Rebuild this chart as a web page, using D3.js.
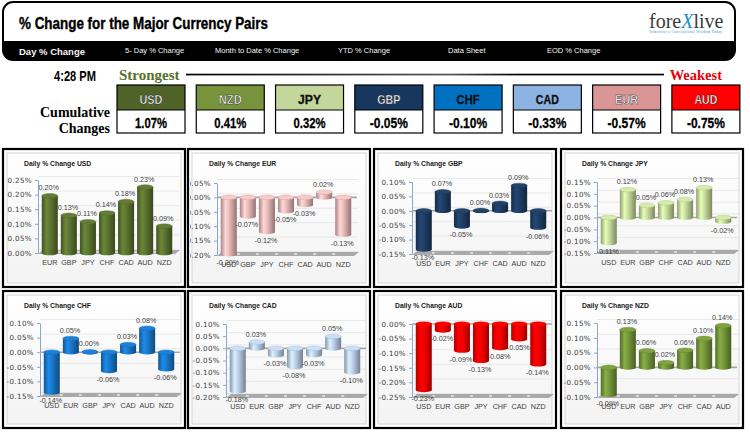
<!DOCTYPE html>
<html><head><meta charset="utf-8">
<script src="https://cdn.jsdelivr.net/npm/d3@7"></script>
<style>body{margin:0;background:#fff}svg{display:block}</style>
</head><body>
<svg id="c" width="750" height="433"></svg>
<script>
// ---------- DATA ----------
const rankCurrencies = ["USD","NZD","JPY","GBP","CHF","CAD","EUR","AUD"];
const rankCumulative = [1.07,0.41,0.32,-0.05,-0.10,-0.33,-0.57,-0.75];
const tabLabels = ["Day % Change","5- Day % Change","Month to Date % Change","YTD % Change","Data Sheet","EOD % Change"];

const catsUSD = ["EUR","GBP","JPY","CHF","CAD","AUD","NZD"];
const valsUSD = [0.196,0.129,0.107,0.137,0.176,0.226,0.092];
const catsEUR = ["USD","GBP","JPY","CHF","CAD","AUD","NZD"];
const valsEUR = [-0.197,-0.066,-0.120,-0.048,-0.026,0.018,-0.129];
const catsGBP = ["USD","EUR","JPY","CHF","CAD","AUD","NZD"];
const valsGBP = [-0.134,0.066,-0.054,0.001,0.026,0.088,-0.058];
const catsJPY = ["USD","EUR","GBP","CHF","CAD","AUD","NZD"];
const valsJPY = [-0.108,0.118,0.051,0.062,0.076,0.126,-0.017];
const catsCHF = ["USD","EUR","GBP","JPY","CAD","AUD","NZD"];
const valsCHF = [-0.138,0.047,0.001,-0.064,0.026,0.082,-0.058];
const catsCAD = ["USD","EUR","GBP","JPY","CHF","AUD","NZD"];
const valsCAD = [-0.176,0.026,-0.028,-0.076,-0.027,0.049,-0.098];
const catsAUD = ["USD","EUR","GBP","JPY","CHF","CAD","NZD"];
const valsAUD = [-0.226,-0.022,-0.091,-0.126,-0.082,-0.052,-0.138];
const catsNZD = ["USD","EUR","GBP","JPY","CHF","CAD","AUD"];
const valsNZD = [-0.092,0.128,0.056,0.016,0.058,0.098,0.141];

const domUSD = [0,0.25], domEUR = [-0.20,0.05], domGBP = [-0.15,0.10], domJPY = [-0.15,0.15];
const domCHF = [-0.15,0.10], domCAD = [-0.20,0.10], domAUD = [-0.25,0], domNZD = [-0.10,0.15];

// ---------- STYLE ----------
const boxColors = {USD:"#4f6228",NZD:"#77933c",JPY:"#c3d69b",GBP:"#17375e",CHF:"#0070c0",CAD:"#8db3e2",EUR:"#d99694",AUD:"#ff0000"};
const boxText = {USD:"#fff",NZD:"#fff",JPY:"#111",GBP:"#fff",CHF:"#111",CAD:"#111",EUR:"#fff",AUD:"#fff"};

const charts = [
  {name:"USD", cats:catsUSD, vals:valsUSD, dom:domUSD, color:"#5b7330"},
  {name:"EUR", cats:catsEUR, vals:valsEUR, dom:domEUR, color:"#e6b8b7"},
  {name:"GBP", cats:catsGBP, vals:valsGBP, dom:domGBP, color:"#1f3d63"},
  {name:"JPY", cats:catsJPY, vals:valsJPY, dom:domJPY, color:"#c4d99b"},
  {name:"CHF", cats:catsCHF, vals:valsCHF, dom:domCHF, color:"#1976c8"},
  {name:"CAD", cats:catsCAD, vals:valsCAD, dom:domCAD, color:"#b9cde5"},
  {name:"AUD", cats:catsAUD, vals:valsAUD, dom:domAUD, color:"#f40000"},
  {name:"NZD", cats:catsNZD, vals:valsNZD, dom:domNZD, color:"#74953a"}
];
const panelX = [3,188,374,561], panelY = [149,291], panelH = [138,137], panelW = 182;
const axisX = [38,217,412,597,40,226,412,597];
const plotTop = [180,183,182,182,323,324,324,323];
const plotBot = [253,255,254,253,396,397,397,397];

const svg = d3.select("#c");
const defs = svg.append("defs");
const SANS = "'Liberation Sans', Arial, sans-serif";
const SERIF = "'Liberation Serif', 'Times New Roman', serif";

// ---------- HEADER ----------
defs.append("clipPath").attr("id","hdrClip").append("rect")
  .attr("x",3).attr("y",2).attr("width",732).attr("height",58).attr("rx",10);
svg.append("rect").attr("x",3).attr("y",2).attr("width",732).attr("height",58).attr("rx",10).attr("fill","#fff");
svg.append("g").attr("clip-path","url(#hdrClip)").append("rect")
  .attr("x",0).attr("y",41).attr("width",750).attr("height",20).attr("fill","#000");
svg.append("rect").attr("x",3).attr("y",2).attr("width",732).attr("height",58).attr("rx",10)
  .attr("fill","none").attr("stroke","#000").attr("stroke-width",2);

svg.append("text").attr("x",19).attr("y",29).text("% Change for the Major Currency Pairs")
  .attr("font-family",SANS).attr("font-weight","bold").attr("font-size",17)
  .attr("textLength",249).attr("lengthAdjust","spacingAndGlyphs").attr("fill","#000")
  .attr("stroke","#000").attr("stroke-width",0.4);

const tabX = [19,125,215,338,448,547];
svg.selectAll("text.tab").data(tabLabels).join("text").attr("class","tab")
  .attr("x",(d,i)=>tabX[i]).attr("y",(d,i)=>i===0?55:53)
  .attr("font-family",SANS).attr("font-size",(d,i)=>i===0?9.5:7.5)
  .attr("font-weight",(d,i)=>i===0?"bold":"normal").attr("fill","#f4f4f4").text(d=>d);

// logo
const logo = svg.append("text").attr("x",649).attr("y",28).attr("font-family",SERIF)
  .attr("font-size",20).attr("fill","#3a3a3a");
logo.append("tspan").text("fore");
logo.append("tspan").attr("fill","#1d8fd1").attr("font-style","italic").text("X");
logo.append("tspan").text("live");
svg.append("text").attr("x",649).attr("y",33).attr("font-family",SERIF).attr("font-size",3.6)
  .attr("fill","#2a8fd0").attr("textLength",73).text("Tomorrow's Conventional Wisdom Today");

// ---------- STRONGEST / WEAKEST ----------
svg.append("text").attr("x",96).attr("y",81).attr("text-anchor","end").text("4:28 PM")
  .attr("font-family",SANS).attr("font-weight","bold").attr("font-size",14)
  .attr("textLength",42).attr("lengthAdjust","spacingAndGlyphs");
svg.append("text").attr("x",119).attr("y",80).text("Strongest")
  .attr("font-family",SERIF).attr("font-weight","bold").attr("font-size",15).attr("fill","#56712a");
svg.append("text").attr("x",722).attr("y",80).attr("text-anchor","end").text("Weakest")
  .attr("font-family",SERIF).attr("font-weight","bold").attr("font-size",14.5).attr("fill","#e8000b");
const lg = defs.append("linearGradient").attr("id","lineGrad");
lg.append("stop").attr("offset",0).attr("stop-color","#000");
lg.append("stop").attr("offset",0.55).attr("stop-color","#555");
lg.append("stop").attr("offset",0.7).attr("stop-color","#000");
svg.append("rect").attr("x",186).attr("y",73.7).attr("width",478).attr("height",1.7).attr("fill","url(#lineGrad)");

svg.append("text").attr("x",110).attr("y",117).attr("text-anchor","end").text("Cumulative")
  .attr("font-family",SERIF).attr("font-weight","bold").attr("font-size",14);
svg.append("text").attr("x",110).attr("y",133).attr("text-anchor","end").text("Changes")
  .attr("font-family",SERIF).attr("font-weight","bold").attr("font-size",14);

const boxX = d3.scaleBand().domain(rankCurrencies).range([117,117+78*8]).paddingInner(10/78).paddingOuter(0).align(0);
const boxes = svg.selectAll("g.box").data(rankCurrencies).join("g").attr("class","box")
  .attr("transform",d=>`translate(${boxX(d)},85)`);
boxes.append("rect").attr("width",68).attr("height",25).attr("fill",d=>boxColors[d]);
boxes.append("rect").attr("y",25).attr("width",68).attr("height",23).attr("fill","#fff");
boxes.append("rect").attr("width",68).attr("height",48).attr("fill","none").attr("stroke","#000").attr("stroke-width",1.2);
boxes.append("line").attr("x1",0).attr("x2",68).attr("y1",25).attr("y2",25).attr("stroke","#000").attr("stroke-width",1);
boxes.append("text").attr("x",34).attr("y",19).attr("text-anchor","middle").text(d=>d)
  .attr("font-family",SANS).attr("font-weight","bold").attr("font-size",12.5)
  .attr("textLength",23).attr("lengthAdjust","spacingAndGlyphs")
  .attr("fill",d=>boxText[d]).attr("stroke",d=>boxText[d]==="#fff"?"#222":"#111").attr("stroke-width",d=>boxText[d]==="#fff"?0.45:0.3);
boxes.append("text").attr("x",34).attr("y",43).attr("text-anchor","middle")
  .text((d,i)=>rankCumulative[i].toFixed(2)+"%")
  .attr("font-family",SANS).attr("font-weight","bold").attr("font-size",15)
  .attr("textLength",(d,i)=>rankCumulative[i]<0?38:32).attr("lengthAdjust","spacingAndGlyphs")
  .attr("fill","#000").attr("stroke","#000").attr("stroke-width",0.3);

// ---------- PANELS ----------
const pg = defs.append("linearGradient").attr("id","panelGrad").attr("x1",0).attr("x2",0).attr("y1",0).attr("y2",1);
pg.append("stop").attr("offset",0).attr("stop-color","#ffffff");
pg.append("stop").attr("offset",1).attr("stop-color","#f3f3f3");

const fmt = v => (Math.abs(v)<1e-9?0:v).toFixed(2)+"%";

charts.forEach((c,i)=>{
  const col=i%4,row=Math.floor(i/4);
  const px=panelX[col], py=panelY[row], ph=panelH[row];
  const ax=axisX[i], yT=plotTop[i], yB=plotBot[i];
  const g = svg.append("g");
  g.append("rect").attr("x",px).attr("y",py).attr("width",panelW).attr("height",ph)
    .attr("fill","#fff").attr("stroke","#000").attr("stroke-width",2.2);
  g.append("rect").attr("x",px+4).attr("y",py+4).attr("width",panelW-8).attr("height",ph-8)
    .attr("fill","url(#panelGrad)").attr("stroke","#d4d4d4").attr("stroke-width",1);
  const cid="clip"+i;
  defs.append("clipPath").attr("id",cid).append("rect").attr("x",px+2).attr("y",py+2).attr("width",panelW-4).attr("height",ph-4);
  const cg = g.append("g").attr("clip-path",`url(#${cid})`);

  cg.append("text").attr("x",px+21).attr("y",py+17).text("Daily % Change "+c.name)
    .attr("font-family",SANS).attr("font-weight","bold").attr("font-size",6.8).attr("fill","#1a1a1a");

  const y = d3.scaleLinear().domain(c.dom).range([yB,yT]);
  const x = d3.scaleBand().domain(c.cats).range([ax+3,ax+135]).paddingInner(0.16).paddingOuter(0.04);
  const ticks = d3.range(Math.round(c.dom[0]*100), Math.round(c.dom[1]*100)+1, 5).map(v=>v/100);
  const right = ax+137;

  // gridlines
  cg.selectAll("line.grid").data(ticks).join("line").attr("class","grid")
    .attr("x1",ax).attr("x2",right+4).attr("y1",d=>y(d)-3.5).attr("y2",d=>y(d)-3.5)
    .attr("stroke","#e3e3e3").attr("stroke-width",0.8);

  // floor
  cg.append("path").attr("d",`M${ax},${yB+1}L${ax+5},${yB-3}L${right+5},${yB-3}L${right},${yB+1}Z`)
    .attr("fill","#a9a9a9");
  cg.selectAll("line.fl").data(c.cats.slice(1)).join("line").attr("class","fl")
    .attr("x1",d=>x(d)-x.step()*0.08-1.5).attr("x2",d=>x(d)-x.step()*0.08+1.5)
    .attr("y1",yB-1).attr("y2",yB-1).attr("stroke","#f2f2f2").attr("stroke-width",1.3);

  // zero line
  if(c.dom[0]<0){
    cg.append("line").attr("x1",ax).attr("x2",right+3).attr("y1",y(0)).attr("y2",y(0))
      .attr("stroke","#a6a6a6").attr("stroke-width",1.6);
  }

  // axis
  const axis = d3.axisLeft(y).tickValues(ticks).tickSize(3).tickSizeOuter(0).tickPadding(3).tickFormat(fmt);
  const ag = cg.append("g").attr("transform",`translate(${ax},0)`).call(axis);
  ag.select(".domain").attr("stroke","#8aa6cf").attr("stroke-width",1);
  ag.selectAll(".tick line").attr("stroke","#8aa6cf");
  ag.selectAll(".tick text").attr("font-family","'DejaVu Sans', sans-serif").attr("font-size",7.2)
    .attr("fill","#404040").attr("letter-spacing",0.35);

  // bars (3D cylinders)
  const base = d3.color(c.color);
  const gid="bg"+i;
  const gr = defs.append("linearGradient").attr("id",gid);
  gr.append("stop").attr("offset",0).attr("stop-color",base.darker(0.9));
  gr.append("stop").attr("offset",0.3).attr("stop-color",base.brighter(0.45));
  gr.append("stop").attr("offset",0.55).attr("stop-color",base);
  gr.append("stop").attr("offset",1).attr("stop-color",base.darker(1.3));
  const bw = x.bandwidth(), ry=2.3;
  const bars = cg.selectAll("g.bar").data(c.cats).join("g").attr("class","bar");
  bars.each(function(d,k){
    const v=c.vals[k], b=d3.select(this);
    const y0=y(0), y1=y(v), top=Math.min(y0,y1), bot=Math.max(y0,y1);
    const xl=x(d), cx=xl+bw/2;
    b.append("ellipse").attr("cx",cx).attr("cy",bot).attr("rx",bw/2).attr("ry",ry).attr("fill",`url(#${gid})`);
    b.append("rect").attr("x",xl).attr("y",top).attr("width",bw).attr("height",bot-top).attr("fill",`url(#${gid})`);
    b.append("ellipse").attr("cx",cx).attr("cy",top).attr("rx",bw/2).attr("ry",ry)
      .attr("fill",base.brighter(0.25)).attr("stroke",base.darker(0.4)).attr("stroke-width",0.4);
  });

  // category labels
  cg.selectAll("text.cat").data(c.cats).join("text").attr("class","cat")
    .attr("x",d=>x(d)+bw/2).attr("y",yB+12).attr("text-anchor","middle").text(d=>d)
    .attr("font-family",SANS).attr("font-size",7.2).attr("fill","#404040");

  // data labels
  cg.selectAll("text.dl").data(c.cats).join("text").attr("class","dl")
    .attr("x",d=>x(d)+bw/2-1).attr("y",(d,k)=>c.vals[k]>=0? y(c.vals[k])-5.5 : y(c.vals[k])+11)
    .attr("text-anchor","middle").text((d,k)=>fmt(c.vals[k]))
    .attr("font-family",SANS).attr("font-size",7.2).attr("fill","#404040");
});
</script>
</body></html>
